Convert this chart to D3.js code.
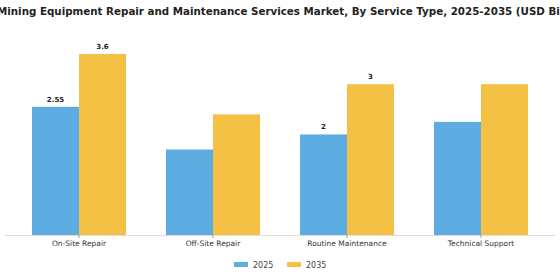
<!DOCTYPE html>
<html><head><meta charset="utf-8">
<script src="https://cdn.jsdelivr.net/npm/d3@7"></script>
<style>body{margin:0;background:#fff}svg{display:block}text{font-family:"DejaVu Sans",sans-serif}</style>
</head><body><svg id="c" width="560" height="280"></svg>
<script>
const categories = ["On-Site Repair","Off-Site Repair","Routine Maintenance","Technical Support"];
const series = ["2025","2035"];
const values2025 = [2.55,1.7,2.0,2.25];
const values2035 = [3.6,2.4,3.0,3.0];
const labels2025 = ["2.55","","2",""];
const labels2035 = ["3.6","","3",""];
const colors = ["#5DADE2","#F5C145"];
const title = "Mining Equipment Repair and Maintenance Services Market, By Service Type, 2025-2035 (USD Billion)";

const svg = d3.select("#c");
const x0 = d3.scaleBand().domain(categories).range([12, 548]).paddingInner(40/134).paddingOuter(20/134);
const x1 = d3.scaleBand().domain(series).range([0, x0.bandwidth()]);
const y = d3.scaleLinear().domain([0, 3.6]).range([235, 54]);

svg.append("text").attr("x", -3).attr("y", 15).attr("font-size", 10.3).attr("font-weight","bold").attr("fill","#222").text(title);

const data = categories.map((c,i)=>({c, v:[values2025[i], values2035[i]], l:[labels2025[i], labels2035[i]]}));
const g = svg.selectAll("g.grp").data(data).join("g").attr("transform", d=>`translate(${x0(d.c)},0)`);
g.selectAll("rect").data(d=>d.v.map((v,j)=>({v,j}))).join("rect")
  .attr("x", d=>x1(series[d.j])).attr("width", x1.bandwidth())
  .attr("y", d=>y(d.v)).attr("height", d=>y(0)-y(d.v)).attr("fill", d=>colors[d.j]);
g.selectAll("text.val").data(d=>d.v.map((v,j)=>({v,j,l:d.l[j]}))).join("text").attr("class","val")
  .attr("x", d=>x1(series[d.j])+x1.bandwidth()/2).attr("y", d=>y(d.v)-5)
  .attr("text-anchor","middle").attr("font-size",7).attr("font-weight","bold").attr("fill","#222").text(d=>d.l);

const ax = svg.append("g").attr("transform","translate(0,235)").call(d3.axisBottom(x0).tickSizeOuter(0).tickSize(3));
ax.select(".domain").attr("stroke","#ddd");
ax.selectAll(".tick line").attr("stroke","#999");
ax.selectAll(".tick text").attr("font-family","DejaVu Sans").attr("font-size",7.5).attr("fill","#333").attr("dy","0.6em");
ax.select(".domain").attr("d","M5,0.5H555");

const leg = svg.append("g").attr("transform","translate(234,262)");
series.forEach((s,i)=>{
  const lg = leg.append("g").attr("transform",`translate(${i*53},0)`);
  lg.append("rect").attr("width",14).attr("height",5).attr("fill",colors[i]);
  lg.append("text").attr("x",19).attr("y",5.5).attr("font-size",8).attr("fill","#444").text(s);
});
</script></body></html>
